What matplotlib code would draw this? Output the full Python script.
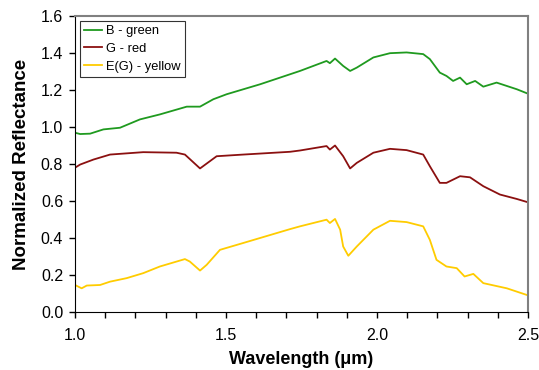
import matplotlib.pyplot as plt

plt.rcParams['font.family'] = ['Liberation Sans', 'DejaVu Sans']

# values
wl_green = [1.0, 1.017, 1.05, 1.094, 1.149, 1.215, 1.281, 1.37, 1.414, 1.458, 1.502, 1.613,
            1.712, 1.745, 1.833, 1.844, 1.861, 1.888, 1.911, 1.933, 1.988, 2.043, 2.098,
            2.153, 2.175, 2.208, 2.23, 2.252, 2.275, 2.297, 2.325, 2.352, 2.396, 2.463, 2.5]
green = [0.969, 0.962, 0.964, 0.987, 0.996, 1.041, 1.068, 1.110, 1.110, 1.150, 1.177, 1.231,
         1.285, 1.303, 1.357, 1.345, 1.370, 1.330, 1.303, 1.321, 1.376, 1.399, 1.403,
         1.394, 1.367, 1.294, 1.276, 1.249, 1.267, 1.231, 1.249, 1.218, 1.240, 1.204, 1.180]

wl_red = [1.0, 1.017, 1.061, 1.116, 1.226, 1.336, 1.364, 1.414, 1.469, 1.557, 1.712, 1.745,
          1.833, 1.844, 1.861, 1.888, 1.911, 1.933, 1.988, 2.043, 2.098, 2.153, 2.175,
          2.208, 2.23, 2.275, 2.308, 2.352, 2.407, 2.463, 2.5]
red = [0.780, 0.797, 0.824, 0.851, 0.864, 0.861, 0.851, 0.776, 0.842, 0.851, 0.866, 0.873,
       0.897, 0.878, 0.900, 0.842, 0.776, 0.806, 0.861, 0.882, 0.875, 0.851, 0.788,
       0.698, 0.698, 0.734, 0.728, 0.680, 0.635, 0.611, 0.593]

wl_yellow = [1.0, 1.022, 1.039, 1.083, 1.116, 1.171, 1.226, 1.281, 1.364, 1.38, 1.414, 1.436,
             1.48, 1.557, 1.712, 1.745, 1.833, 1.844, 1.861, 1.878, 1.888, 1.905, 1.933,
             1.988, 2.043, 2.098, 2.153, 2.175, 2.197, 2.23, 2.264, 2.29, 2.319, 2.352,
             2.43, 2.5]
yellow = [0.146, 0.128, 0.143, 0.146, 0.164, 0.183, 0.210, 0.246, 0.286, 0.273, 0.224, 0.255,
          0.336, 0.373, 0.448, 0.463, 0.499, 0.481, 0.503, 0.445, 0.354, 0.304, 0.354,
          0.445, 0.493, 0.486, 0.463, 0.390, 0.282, 0.246, 0.237, 0.192, 0.206, 0.156,
          0.128, 0.090]

labels = ['B - green', 'G - red', 'E(G) - yellow']

fig = plt.figure(figsize=(5.39, 3.70), dpi=100)
ax = fig.add_axes([75 / 539, 1 - 312 / 370, (528 - 75) / 539, (312 - 16) / 370])

ax.plot(wl_green, green, color='#1f9a1f', lw=1.3, label=labels[0])
ax.plot(wl_red, red, color='#8b1010', lw=1.3, label=labels[1])
ax.plot(wl_yellow, yellow, color='#ffcc00', lw=1.3, label=labels[2])

ax.set_xlim(1.0, 2.5)
ax.set_ylim(0, 1.6)
ax.set_xticks([1.0, 1.5, 2.0, 2.5])
ax.set_xticks([1.0 + 0.1 * i for i in range(16)], minor=True)
ax.set_yticks([0.2 * i for i in range(9)])
ax.xaxis.set_major_formatter(plt.FormatStrFormatter('%.1f'))
ax.yaxis.set_major_formatter(plt.FormatStrFormatter('%.1f'))
ax.tick_params(labelsize=11.5, length=4.5, width=1, pad=7)
ax.tick_params(axis='y', pad=4)
ax.tick_params(which='minor', length=4, width=1)

for s in ['top', 'right']:
    ax.spines[s].set_color('#808080')
    ax.spines[s].set_linewidth(1.5)

ax.set_xlabel('Wavelength (\u03bcm)', fontsize=13, fontweight='bold', labelpad=6)
ax.set_ylabel('Normalized Reflectance', fontsize=13.5, fontweight='bold', labelpad=8)

leg = ax.legend(loc='upper left', fontsize=9.3, frameon=True, fancybox=False,
                edgecolor='black', handlelength=1.4, handletextpad=0.3,
                borderaxespad=0.35, labelspacing=0.45, borderpad=0.35)
leg.get_frame().set_linewidth(0.8)

fig.savefig('out.png', dpi=100)
